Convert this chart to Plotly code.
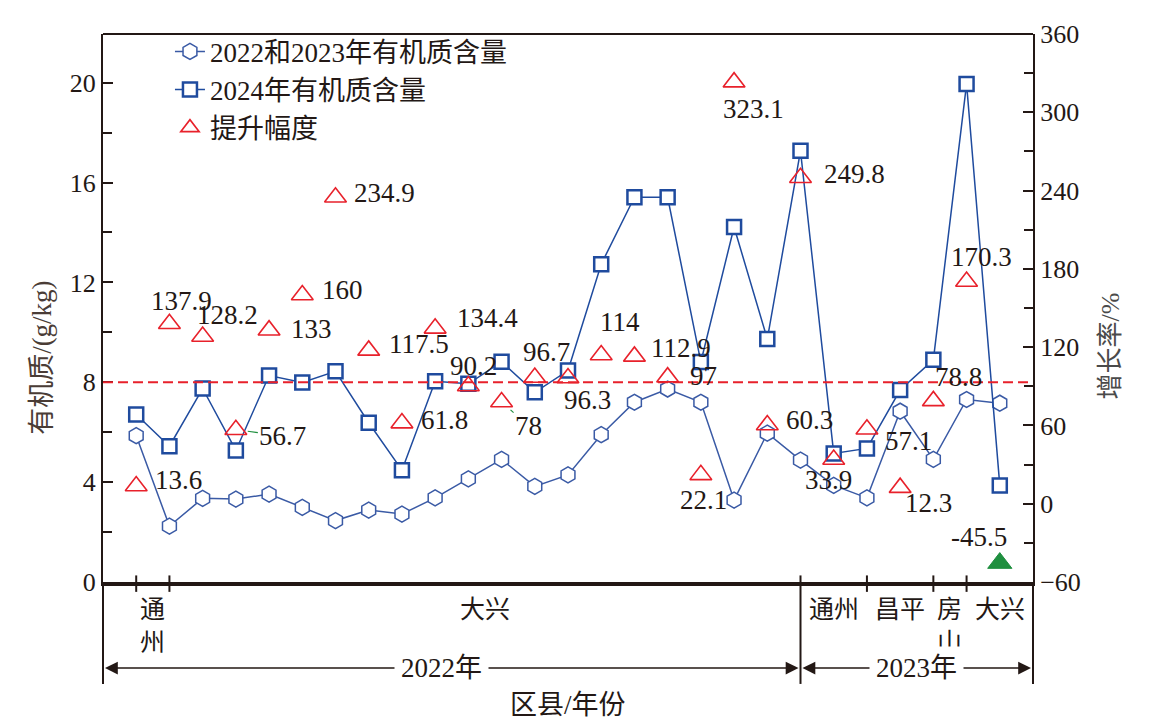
import plotly.graph_objects as go

# ---------------- data ----------------
x_idx = list(range(1, 28))
om_2022_2023 = [5.86, 2.24, 3.35, 3.32, 3.52, 2.99, 2.46, 2.88, 2.72, 3.37,
                4.13, 4.91, 3.83, 4.29, 5.90, 7.20, 7.73, 7.20, 3.28, 5.96,
                4.88, 3.87, 3.37, 6.84, 4.91, 7.31, 7.16]
om_2024 = [6.71, 5.44, 7.75, 5.27, 8.27, 7.99, 8.44, 6.38, 4.48, 8.04,
           7.94, 8.82, 7.60, 8.47, 12.73, 15.41, 15.41, 8.81, 14.22, 9.73,
           17.27, 5.15, 5.35, 7.69, 8.90, 19.95, 3.87]
growth = [13.6, 137.9, 128.2, 56.7, 133, 160, 234.9, 117.5, 61.8, 134.4,
          90.2, 78, 96.7, 96.3, 114, 112.9, 97, 22.1, 323.1, 60.3,
          249.8, 33.9, 57.1, 12.3, 78.8, 170.3, -45.5]
ref_level = 8

district_labels = ["通<br>州", "大兴", "通州", "昌平", "房<br>山", "大兴"]
district_bounds = [1, 2, 21, 23, 25, 26, 28]
year_labels = ["2022年", "2023年"]
year_bounds = [0, 21, 28]

y_left_ticks = [0, 4, 8, 12, 16, 20]
y_right_ticks = [-60, 0, 60, 120, 180, 240, 300, 360]

# label placement (pixel offsets from each triangle) and leader flags
label_offsets = [(42, -6), (12, -23), (25, -21), (47, 6), (42, -1), (40, -5),
                 (49, -4), (50, -6), (43, -3), (52, -10), (5, -20), (27, 24),
                 (12, -26), (19, 22), (19, -33), (47, -8), (36, -1), (3, 25),
                 (19, 27), (42, -5), (54, -4), (-5, 21), (42, 12), (28, 15),
                 (25, -24), (15, -25), (-21, -26)]
leader = [False, False, False, True, False, False, False, False, False, False,
          False, True, False, False, False, False, False, False, False, False,
          False, False, False, False, True, False, True]

# ---------------- styles ----------------
SERIF = "Liberation Serif, Times New Roman, Noto Sans CJK SC, serif"
BLUE = "#1f4b9e"
RED = "#e8212b"
GREEN = "#1f8f3f"
DARK = "#231815"

fig = go.Figure()

fig.add_trace(go.Scatter(
    x=x_idx, y=om_2022_2023, mode="lines+markers", name="2022和2023年有机质含量",
    line=dict(color="#3a5aa5", width=1.5),
    marker=dict(symbol="hexagon", size=16, color="white",
                line=dict(color="#3a5aa5", width=1.5)),
))
fig.add_trace(go.Scatter(
    x=x_idx, y=om_2024, mode="lines+markers", name="2024年有机质含量",
    line=dict(color=BLUE, width=1.5),
    marker=dict(symbol="square", size=14, color="white",
                line=dict(color=BLUE, width=2.5)),
))

pos_x = [x for x, g in zip(x_idx, growth) if g >= 0]
pos_g = [g for g in growth if g >= 0]
neg_x = [x for x, g in zip(x_idx, growth) if g < 0]
neg_g = [g for g in growth if g < 0]

fig.add_trace(go.Scatter(
    x=pos_x, y=pos_g, mode="markers", name="提升幅度", yaxis="y2",
    marker=dict(symbol="triangle-up-open", size=19, color=RED,
                line=dict(color=RED, width=1.6)),
))
fig.add_trace(go.Scatter(
    x=neg_x, y=neg_g, mode="markers", name="下降", yaxis="y2", showlegend=False,
    marker=dict(symbol="triangle-up", size=21, color=GREEN,
                line=dict(color=GREEN, width=1)),
))

annotations = []
for x, g, (dx, dy), ld in zip(x_idx, growth, label_offsets, leader):
    txt = f"{g:g}"
    if ld:
        annotations.append(dict(
            x=x, y=g, xref="x", yref="y2", text=txt, showarrow=True,
            ax=dx, ay=dy, arrowhead=0, arrowwidth=1.2, arrowcolor=GREEN,
            standoff=12, font=dict(family=SERIF, size=27, color=DARK),
        ))
    else:
        annotations.append(dict(
            x=x, y=g, xref="x", yref="y2", text=txt, showarrow=False,
            xshift=dx, yshift=-dy, xanchor="center", yanchor="middle",
            font=dict(family=SERIF, size=27, color=DARK),
        ))

# district labels under the axis
for lab, a, b in zip(district_labels, district_bounds[:-1], district_bounds[1:]):
    annotations.append(dict(
        x=(a + b) / 2, y=-0.022, xref="x", yref="paper", text=lab,
        showarrow=False, xanchor="center", yanchor="top",
        font=dict(family=SERIF, size=25, color=DARK),
    ))

# year spans with double arrows
year_y = -0.157
for a, b in zip(year_bounds[:-1], year_bounds[1:]):
    mid = (a + b) / 2
    for end in (a + 0.06, b - 0.06):
        annotations.append(dict(
            x=end, y=year_y, xref="x", yref="paper", ax=mid, ay=0,
            axref="x", ayref="pixel", text="", showarrow=True,
            arrowhead=2, arrowsize=1.6, arrowwidth=1.6, arrowcolor=DARK,
        ))
for lab, a, b in zip(year_labels, year_bounds[:-1], year_bounds[1:]):
    annotations.append(dict(
        x=(a + b) / 2 - (0.3 if a == 0 else 0), y=year_y, xref="x", yref="paper", text=lab,
        showarrow=False, xanchor="center", yanchor="middle",
        bgcolor="white", borderpad=6,
        font=dict(family=SERIF, size=27, color=DARK),
    ))

annotations.append(dict(
    x=0.5, y=-0.225, xref="paper", yref="paper", text="区县/年份",
    showarrow=False, xanchor="center", yanchor="middle",
    font=dict(family=SERIF, size=27, color=DARK),
))
annotations.append(dict(
    x=-0.065, y=0.41, xref="paper", yref="paper", text="有机质/(g/kg)",
    showarrow=False, textangle=-90, xanchor="center", yanchor="middle",
    font=dict(family=SERIF, size=27, color="#4a3c36"),
))
annotations.append(dict(
    x=1.083, y=0.43, xref="paper", yref="paper", text="增长率/%",
    showarrow=False, textangle=-90, xanchor="center", yanchor="middle",
    font=dict(family=SERIF, size=26, color="#4a4a4a"),
))

shapes = [
    # reference line
    dict(type="line", xref="paper", yref="y", x0=0, x1=1, y0=ref_level, y1=ref_level,
         line=dict(color=RED, width=2, dash="10px,5px")),
    # top frame
    dict(type="line", xref="paper", yref="paper", x0=0, x1=1, y0=1, y1=1,
         line=dict(color=DARK, width=2)),
    # frame extensions below axis
    dict(type="line", xref="paper", yref="paper", x0=0, x1=0, y0=0, y1=-0.186,
         line=dict(color=DARK, width=2)),
    dict(type="line", xref="paper", yref="paper", x0=1, x1=1, y0=0, y1=-0.186,
         line=dict(color=DARK, width=2)),
]
for a in year_bounds[1:-1]:
    shapes.append(dict(type="line", xref="x", yref="paper", x0=a, x1=a, y0=0.012, y1=-0.186,
                       line=dict(color=DARK, width=2)))
for a in district_bounds[:-1]:
    if a in year_bounds:
        continue
    shapes.append(dict(type="line", xref="x", yref="paper", x0=a, x1=a, y0=0.012, y1=-0.018,
                       line=dict(color=DARK, width=2)))

fig.update_layout(
    width=1155, height=726,
    margin=dict(l=95, r=130, t=15, b=152),
    paper_bgcolor="white", plot_bgcolor="white",
    font=dict(family=SERIF, color=DARK),
    showlegend=True,
    legend=dict(x=0.072, y=1.012, xanchor="left", yanchor="top",
                bgcolor="rgba(0,0,0,0)", font=dict(family=SERIF, size=27, color=DARK),
                tracegroupgap=0, itemwidth=30),
    xaxis=dict(range=[0, 28], showgrid=False, zeroline=False, showticklabels=False,
               ticks="", showline=True, linewidth=4, linecolor=DARK),
    yaxis=dict(range=[0, 21.95], tickvals=y_left_ticks, showgrid=False, zeroline=False,
               showline=True, linewidth=2, linecolor=DARK, ticks="inside",
               ticklen=10, tickwidth=2, tickcolor=DARK,
               minor=dict(dtick=2, ticks="inside", ticklen=9, tickwidth=1.5, tickcolor=DARK),
               tickfont=dict(family=SERIF, size=26, color=DARK)),
    yaxis2=dict(range=[-60, 360], tickvals=y_right_ticks, overlaying="y", side="right",
                showgrid=False, zeroline=False, showline=True, linewidth=2, linecolor=DARK,
                ticks="inside", ticklen=10, tickwidth=2, tickcolor=DARK,
                minor=dict(dtick=30, ticks="inside", ticklen=9, tickwidth=1.5, tickcolor=DARK),
                tickfont=dict(family=SERIF, size=26, color=DARK)),
    annotations=annotations,
    shapes=shapes,
)

fig.write_html("out.html")
